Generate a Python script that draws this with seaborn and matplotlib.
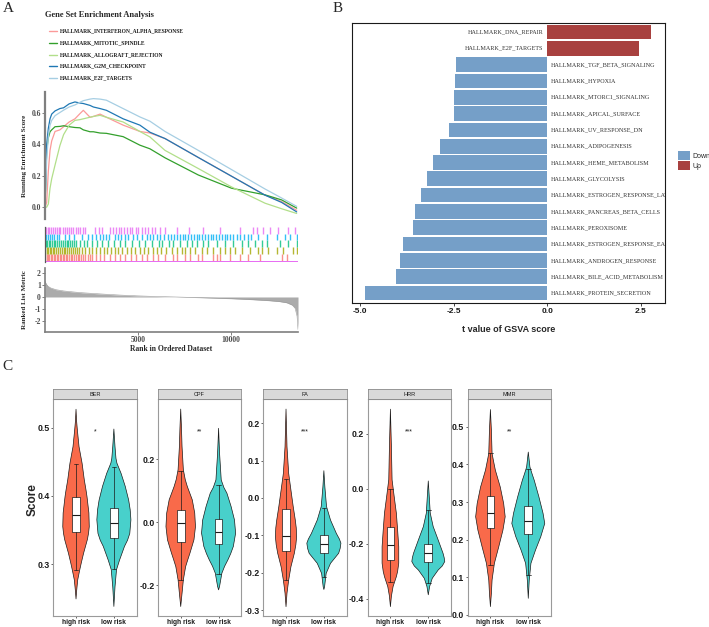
import numpy as np
import pandas as pd
import matplotlib
matplotlib.use('Agg')
import matplotlib.pyplot as plt
import seaborn as sns
from matplotlib.lines import Line2D
from matplotlib.patches import Patch

# ---------------- Panel A: GSEA ----------------
gsea_sets = ['HALLMARK_INTERFERON_ALPHA_RESPONSE', 'HALLMARK_MITOTIC_SPINDLE',
             'HALLMARK_ALLOGRAFT_REJECTION', 'HALLMARK_G2M_CHECKPOINT', 'HALLMARK_E2F_TARGETS']
gsea_colors = ['#FB9A99', '#33A02C', '#B2DF8A', '#1F78B4', '#A6CEE3']

es_rank = [0, 90, 180, 270, 360, 540, 800, 1000, 1300, 1610, 1880, 2060, 2420, 2600,
           2960, 3300, 4200, 5100, 5640, 6450, 8240, 10030, 11830, 12720, 13530]
es_interferon = [0.0, 0.03, 0.23, 0.36, 0.42, 0.48, 0.49, 0.51, 0.54, 0.56, 0.593, 0.614, 0.57,
                 0.575, 0.59, 0.57, 0.52, 0.48, 0.47, 0.435, 0.315, 0.196, 0.076, 0.035, -0.02]
es_mitotic = [0.0, 0.36, 0.44, 0.478, 0.49, 0.51, 0.512, 0.516, 0.51, 0.505, 0.503, 0.49, 0.478,
              0.478, 0.47, 0.468, 0.447, 0.393, 0.37, 0.313, 0.204, 0.12, 0.078, 0.046, -0.006]
es_allograft = [0.0, 0.0, 0.02, 0.12, 0.18, 0.267, 0.39, 0.46, 0.52, 0.55, 0.555, 0.56, 0.57,
                0.575, 0.582, 0.57, 0.54, 0.48, 0.445, 0.36, 0.245, 0.128, 0.025, -0.01, -0.04]
es_g2m = [0.0, 0.40, 0.50, 0.56, 0.59, 0.61, 0.625, 0.63, 0.655, 0.667, 0.66, 0.657, 0.645,
          0.635, 0.625, 0.614, 0.56, 0.52, 0.475, 0.435, 0.315, 0.196, 0.076, 0.03, -0.03]
es_e2f = [0.0, 0.30, 0.45, 0.52, 0.55, 0.58, 0.60, 0.615, 0.635, 0.648, 0.665, 0.675, 0.685,
          0.688, 0.685, 0.678, 0.625, 0.572, 0.545, 0.48, 0.36, 0.238, 0.115, 0.058, 0.005]
es_ticks = [0.0, 0.2, 0.4, 0.6]
es_tick_labels = ['0.0', '0.2', '0.4', '0.6']

# posiciones de los genes de cada conjunto (filas del rug, de abajo a arriba)
hits_interferon = [20, 90, 160, 240, 320, 400, 480, 560, 640, 720, 800, 880, 960, 1040, 1120,
                   1200, 1290, 1380, 1470, 1560, 1650, 1750, 1850, 1950, 2050, 2170, 2300, 2420,
                   2530, 2750, 2950, 3150, 3500, 3760, 4050, 4300, 4600, 4900, 5200, 5500, 5800,
                   6100, 6450, 6900, 7080, 7530, 7790, 8240, 8420, 9050, 9230, 9410, 9940, 10480,
                   10930, 11560, 12720, 12990]
hits_mitotic = [20, 100, 180, 260, 340, 420, 500, 600, 700, 800, 900, 1000, 1100, 1200, 1300,
                1400, 1500, 1600, 1700, 1850, 2000, 2150, 2350, 2550, 2750, 2950, 3150, 3350,
                3550, 3750, 3950, 4150, 4400, 4600, 4850, 5100, 5300, 5550, 5800, 6000, 6250,
                6500, 6810, 7080, 7350, 7530, 7790, 8060, 8420, 8690, 9050, 9410, 9680, 9940,
                10200, 10570, 11020, 11470, 11650, 12010, 12460, 12810, 13350, 13530]
hits_allograft = [30, 110, 190, 280, 370, 460, 560, 660, 760, 860, 960, 1060, 1160, 1260, 1360,
                  1460, 1560, 1680, 1900, 2100, 2280, 2530, 2800, 3070, 3400, 3700, 4050, 4320,
                  4680, 5030, 5390, 5750, 6110, 6290, 6650, 6900, 7260, 7620, 7880, 8150, 8510,
                  8780, 9230, 9680, 10120, 10570, 10930, 11290, 11650, 11920, 12630, 13080, 13530]
hits_g2m = [40, 140, 250, 380, 500, 620, 760, 1100, 1300, 1550, 1980, 2300, 2520, 2720, 2950,
            3120, 3300, 3450, 3780, 3950, 4100, 4280, 4480, 4750, 4950, 5200, 5480, 5650, 5800,
            6000, 6200, 6400, 6600, 6780, 6950, 7100, 7250, 7400, 7550, 7700, 7850, 8000, 8150,
            8300, 8450, 8600, 8750, 8900, 9050, 9200, 9350, 9500, 9650, 9800, 9950, 10100, 10300,
            10500, 10700, 10900, 11100, 11470, 11920, 12460, 12900, 13170, 13540]
hits_e2f = [60, 150, 230, 330, 420, 520, 640, 730, 830, 950, 1050, 1180, 1290, 1400, 1530, 1650,
            1780, 1900, 2050, 2170, 2710, 2880, 3060, 3520, 3650, 3800, 3960, 4100, 4230, 4400,
            4560, 4700, 4870, 5020, 5200, 5380, 5560, 5750, 5930, 6200, 6470, 7080, 7760, 8510,
            9410, 10480, 11160, 11410, 11740, 12100, 12540, 13080, 13440]
rug_colors = ['#F8766D', '#A3A500', '#00BF7D', '#00B0F6', '#E76BF3']

metric_rank = [0, 60, 150, 300, 600, 1000, 1500, 2000, 3000, 4000, 5000, 6000, 7000, 8000,
               9000, 10000, 11000, 12000, 12600, 13000, 13300, 13450, 13550, 13600]
metric_val = [1.3, 1.1, 0.9, 0.75, 0.6, 0.5, 0.42, 0.35, 0.25, 0.16, 0.09, 0.04, 0.0, -0.04,
              -0.09, -0.14, -0.21, -0.3, -0.38, -0.48, -0.68, -0.95, -1.6, -2.7]

# ---------------- Panel B: GSVA ----------------
gsva_pathways = ['HALLMARK_DNA_REPAIR', 'HALLMARK_E2F_TARGETS', 'HALLMARK_TGF_BETA_SIGNALING',
                 'HALLMARK_HYPOXIA', 'HALLMARK_MTORC1_SIGNALING', 'HALLMARK_APICAL_SURFACE',
                 'HALLMARK_UV_RESPONSE_DN', 'HALLMARK_ADIPOGENESIS', 'HALLMARK_HEME_METABOLISM',
                 'HALLMARK_GLYCOLYSIS', 'HALLMARK_ESTROGEN_RESPONSE_LATE',
                 'HALLMARK_PANCREAS_BETA_CELLS', 'HALLMARK_PEROXISOME',
                 'HALLMARK_ESTROGEN_RESPONSE_EARLY', 'HALLMARK_ANDROGEN_RESPONSE',
                 'HALLMARK_BILE_ACID_METABOLISM', 'HALLMARK_PROTEIN_SECRETION']
gsva_t = [2.77, 2.45, -2.44, -2.47, -2.49, -2.50, -2.62, -2.85, -3.05, -3.20, -3.38, -3.53,
          -3.58, -3.85, -3.94, -4.03, -4.85]
gsva_ticks = [-5.0, -2.5, 0.0, 2.5]
gsva_tick_labels = ['-5.0', '-2.5', '0.0', '2.5']
dir_colors = {'Down': '#759FC8', 'Up': '#A8413F'}

# ---------------- Panel C: violines ----------------
facetas = ['BER', 'CPF', 'FA', 'HRR', 'MMR']
grupos = ['high risk', 'low risk']
grupo_colors = ['#F96A4A', '#48D0CB']
estrellas = ['*', '**', '***', '***', '**']

# perfiles (valor, medio ancho)
ber_high = [(0.527, 0), (0.51, 0.015), (0.497, 0.035), (0.472, 0.08), (0.448, 0.16),
            (0.423, 0.22), (0.41, 0.26), (0.399, 0.29), (0.375, 0.34), (0.355, 0.35),
            (0.345, 0.33), (0.336, 0.30), (0.316, 0.2), (0.302, 0.14), (0.292, 0.1),
            (0.277, 0.045), (0.26, 0.015), (0.249, 0)]
ber_low = [(0.498, 0), (0.472, 0.03), (0.455, 0.055), (0.448, 0.08), (0.433, 0.19),
           (0.414, 0.30), (0.394, 0.39), (0.38, 0.43), (0.365, 0.45), (0.345, 0.42),
           (0.335, 0.36), (0.326, 0.28), (0.306, 0.15), (0.292, 0.07), (0.267, 0.03),
           (0.238, 0)]
cpf_high = [(0.359, 0), (0.30, 0.02), (0.24, 0.035), (0.166, 0.07), (0.135, 0.12),
            (0.113, 0.175), (0.071, 0.305), (0.029, 0.37), (-0.014, 0.39), (-0.056, 0.35),
            (-0.098, 0.245), (-0.12, 0.185), (-0.141, 0.13), (-0.183, 0.07), (-0.226, 0.035),
            (-0.268, 0)]
cpf_low = [(0.298, 0), (0.219, 0.026), (0.134, 0.07), (0.11, 0.14), (0.092, 0.22),
           (0.05, 0.33), (0.007, 0.42), (-0.035, 0.45), (-0.077, 0.39), (-0.1, 0.32),
           (-0.12, 0.245), (-0.14, 0.16), (-0.162, 0.087), (-0.204, 0.026), (-0.215, 0)]
fa_high = [(0.238, 0), (0.1375, 0.026), (0.066, 0.07), (0.021, 0.13), (-0.023, 0.19),
           (-0.059, 0.245), (-0.08, 0.27), (-0.104, 0.28), (-0.125, 0.26), (-0.148, 0.22),
           (-0.184, 0.13), (-0.22, 0.07), (-0.255, 0.026), (-0.291, 0)]
fa_low = [(0.073, 0), (0.03, 0.026), (-0.023, 0.07), (-0.059, 0.175), (-0.095, 0.33),
          (-0.11, 0.41), (-0.121, 0.45), (-0.135, 0.43), (-0.148, 0.39), (-0.175, 0.175),
          (-0.202, 0.06), (-0.238, 0.018), (-0.245, 0)]
hrr_high = [(0.29, 0), (0.154, 0.026), (0.033, 0.044), (-0.028, 0.1), (-0.088, 0.157),
            (-0.149, 0.19), (-0.21, 0.22), (-0.27, 0.22), (-0.3, 0.19), (-0.319, 0.157),
            (-0.355, 0.07), (-0.39, 0.026), (-0.428, 0)]
hrr_low = [(0.029, 0), (-0.028, 0.026), (-0.088, 0.052), (-0.137, 0.13), (-0.185, 0.26),
           (-0.234, 0.39), (-0.25, 0.42), (-0.264, 0.435), (-0.28, 0.37), (-0.295, 0.26),
           (-0.325, 0.105), (-0.355, 0.035), (-0.385, 0)]
mmr_high = [(0.546, 0), (0.49, 0.026), (0.429, 0.044), (0.41, 0.08), (0.385, 0.13),
            (0.34, 0.26), (0.296, 0.35), (0.261, 0.39), (0.225, 0.33), (0.181, 0.22),
            (0.137, 0.105), (0.093, 0.044), (0.058, 0.026), (0.022, 0)]
mmr_low = [(0.433, 0), (0.393, 0.044), (0.375, 0.1), (0.358, 0.157), (0.314, 0.28),
           (0.27, 0.39), (0.243, 0.435), (0.208, 0.33), (0.172, 0.19), (0.137, 0.07),
           (0.093, 0.026), (0.044, 0)]

# cajas: [whislo, q1, mediana, q3, whishi]
ber_box = [[0.292, 0.347, 0.372, 0.398, 0.447], [0.293, 0.339, 0.36, 0.382, 0.443]]
cpf_box = [[-0.185, -0.063, -0.003, 0.039, 0.163], [-0.165, -0.07, -0.032, 0.0095, 0.117]]
fa_box = [[-0.22, -0.141, -0.101, -0.0295, 0.05], [-0.211, -0.148, -0.124, -0.099, -0.028]]
hrr_box = [[-0.337, -0.258, -0.204, -0.139, -0.001], [-0.343, -0.266, -0.234, -0.2, -0.076]]
mmr_box = [[0.133, 0.231, 0.27, 0.317, 0.43], [0.106, 0.214, 0.25, 0.289, 0.389]]

ber_ticks = [0.3, 0.4, 0.5]
cpf_ticks = [-0.2, 0.0, 0.2]
fa_ticks = [-0.3, -0.2, -0.1, 0.0, 0.1, 0.2]
hrr_ticks = [-0.4, -0.2, 0.0, 0.2]
mmr_ticks = [0.0, 0.1, 0.2, 0.3, 0.4, 0.5]

# ---------------- estilo ----------------
sns.set_theme(style='ticks')
plt.rcParams['font.family'] = ['Liberation Sans', 'DejaVu Sans']
plt.rcParams['axes.unicode_minus'] = False
SERIF = 'Liberation Serif'
SANS = 'Liberation Sans'

W, H = 709, 627
fig = plt.figure(figsize=(W / 100, H / 100), dpi=100)


def caja(x0, y0, x1, y1):
    # pixeles de la imagen -> fracciones de la figura
    return [x0 / W, 1 - y1 / H, (x1 - x0) / W, (y1 - y0) / H]


# ---------- A: curvas de enriquecimiento ----------
df_es = pd.DataFrame({
    'rank': es_rank * 5,
    'es': es_interferon + es_mitotic + es_allograft + es_g2m + es_e2f,
    'set': [s for s in gsea_sets for _ in es_rank],
})
ax1 = fig.add_axes(caja(45, 92, 298, 219))
sns.lineplot(data=df_es, x='rank', y='es', hue='set', hue_order=gsea_sets, palette=gsea_colors,
             estimator=None, sort=False, linewidth=0.9, legend=False, ax=ax1)
ax1.set_xlim(0, 13600)
ax1.set_ylim(-0.075, 0.73)
for s in ['top', 'right', 'bottom']:
    ax1.spines[s].set_visible(False)
ax1.spines['left'].set_color('#7F7F7F')
ax1.spines['left'].set_linewidth(1.6)
ax1.set_xticks([])
ax1.set_xlabel('')
ax1.set_yticks(es_ticks)
ax1.set_yticklabels(es_tick_labels, fontfamily=SERIF, fontweight='bold', fontsize=5.5, color='#4D4D4D')
ax1.tick_params(axis='y', length=2, width=0.5, color='#4D4D4D', pad=1)
ax1.set_ylabel('Running Enrichment Score', fontfamily=SERIF, fontweight='bold', fontsize=5)
ax1.yaxis.set_label_coords(-0.072, 0.5)

fig.text(45 / W, 1 - 15 / H, 'Gene Set Enrichment Analysis', fontfamily=SERIF,
         fontweight='bold', fontsize=6, va='center', ha='left')
for i, (nombre, col) in enumerate(zip(gsea_sets, gsea_colors)):
    yy = 1 - (31 + 11.75 * i) / H
    fig.add_artist(Line2D([49.3 / W, 57.3 / W], [yy, yy], color=col, lw=1.0))
    fig.text(60 / W, yy, nombre, fontfamily=SERIF, fontweight='bold', fontsize=4.0,
             va='center', ha='left', color='#1A1A1A')

# ---------- A: rug ----------
ax2 = fig.add_axes(caja(45, 227, 298, 262))
for fila, (hits, col) in enumerate(zip([hits_interferon, hits_mitotic, hits_allograft,
                                         hits_g2m, hits_e2f], rug_colors)):
    ax2.vlines(hits, fila, fila + 1, colors=col, linewidth=1.0, alpha=0.8)
ax2.axhline(-0.12, color='#E76BF3', lw=0.7)
ax2.set_xlim(0, 13600)
ax2.set_ylim(-0.2, 5)
for s in ['top', 'right', 'bottom']:
    ax2.spines[s].set_visible(False)
ax2.spines['left'].set_color('#595959')
ax2.spines['left'].set_linewidth(0.9)
ax2.set_xticks([])
ax2.set_yticks([])

# ---------- A: ranked list metric ----------
ax3 = fig.add_axes(caja(45, 268, 298, 332))
ax3.fill_between(metric_rank, metric_val, 0, color='#ABABAB', linewidth=0)
sns.lineplot(x=metric_rank, y=metric_val, color='#9A9A9A', linewidth=0.4, ax=ax3)
ax3.set_xlim(0, 13600)
ax3.set_ylim(-2.9, 2.4)
for s in ['top', 'right']:
    ax3.spines[s].set_visible(False)
for s in ['left', 'bottom']:
    ax3.spines[s].set_color('#7F7F7F')
    ax3.spines[s].set_linewidth(1.2)
ax3.set_xticks([5000, 10000])
ax3.set_xticklabels(['5000', '10000'], fontfamily=SERIF, fontweight='bold', fontsize=5.5, color='#4D4D4D')
ax3.set_yticks([2, 1, 0, -1, -2])
ax3.set_yticklabels(['2', '1', '0', '-1', '-2'], fontfamily=SERIF, fontweight='bold', fontsize=5.5,
                    color='#4D4D4D')
ax3.tick_params(length=2, width=0.5, color='#4D4D4D', pad=1)
ax3.set_xlabel('Rank in Ordered Dataset', fontfamily=SERIF, fontweight='bold', fontsize=5.5, labelpad=0.5)
ax3.set_ylabel('Ranked List Metric', fontfamily=SERIF, fontweight='bold', fontsize=5)
ax3.yaxis.set_label_coords(-0.072, 0.5)

# ---------- B: GSVA ----------
dfb = pd.DataFrame({'pathway': gsva_pathways, 't': gsva_t})
dfb['dir'] = np.where(dfb['t'] > 0, 'Up', 'Down')
ax4 = fig.add_axes(caja(352, 23, 665, 303))
sns.barplot(data=dfb, x='t', y='pathway', hue='dir', hue_order=['Down', 'Up'],
            palette=dir_colors, orient='h', dodge=False, width=0.9, saturation=1,
            linewidth=0, legend=False, ax=ax4)
for i, (nombre, t) in enumerate(zip(gsva_pathways, gsva_t)):
    if t > 0:
        ax4.text(-0.1, i, nombre, ha='right', va='center', fontfamily=SERIF, fontsize=4.4,
                 color='#333333', clip_on=True)
    else:
        ax4.text(0.1, i, nombre, ha='left', va='center', fontfamily=SERIF, fontsize=4.4,
                 color='#333333', clip_on=True)
ax4.set_xlim(-5.21, 3.14)
ax4.set_ylim(16.61, -0.55)
ax4.set_yticks([])
ax4.set_ylabel('')
ax4.set_xticks(gsva_ticks)
ax4.set_xticklabels(gsva_tick_labels, fontweight='bold', fontsize=6, color='#1A1A1A')
ax4.tick_params(axis='x', length=2, width=0.6, pad=1.5)
for s in ax4.spines.values():
    s.set_color('#1A1A1A')
    s.set_linewidth(0.8)
ax4.set_xlabel('t value of GSVA score', fontweight='bold', fontsize=6.5, labelpad=7)
fig.legend([Patch(facecolor=dir_colors['Down'], edgecolor='none'),
            Patch(facecolor=dir_colors['Up'], edgecolor='none')], ['Down', 'Up'],
           loc='upper left', bbox_to_anchor=(675 / W, 1 - 148 / H), frameon=False,
           prop={'family': SANS, 'size': 5}, handlelength=1.6, handleheight=1.6,
           labelspacing=0.15, handletextpad=0.4, borderpad=0)

# ---------- C: violines ----------
perfiles = [(ber_high, ber_low), (cpf_high, cpf_low), (fa_high, fa_low),
            (hrr_high, hrr_low), (mmr_high, mmr_low)]
cajas = [ber_box, cpf_box, fa_box, hrr_box, mmr_box]
ticks_c = [ber_ticks, cpf_ticks, fa_ticks, hrr_ticks, mmr_ticks]
ylims_c = [(0.224, 0.542), (-0.298, 0.391), (-0.316, 0.265), (-0.462, 0.327), (-0.003, 0.574)]
lefts_c = [53.3, 158, 263.3, 367.7, 467.7]
ancho_c = 83.3

for k, faceta in enumerate(facetas):
    l = lefts_c[k]
    ax = fig.add_axes(caja(l, 399, l + ancho_c, 616))
    for j, perfil in enumerate(perfiles[k]):
        y = np.array([p[0] for p in perfil])
        w = np.array([p[1] for p in perfil])
        x0 = j + 1
        ax.fill(np.concatenate([x0 - w, (x0 + w)[::-1]]), np.concatenate([y, y[::-1]]),
                facecolor=grupo_colors[j], edgecolor='#1A1A1A', linewidth=0.5,
                joinstyle='round', zorder=2)
    stats = [dict(whislo=b[0], q1=b[1], med=b[2], q3=b[3], whishi=b[4], fliers=[])
             for b in cajas[k]]
    ax.bxp(stats, positions=[1, 2], widths=0.2, capwidths=0.12, patch_artist=True,
           showfliers=False, manage_ticks=False, zorder=3,
           boxprops=dict(facecolor='white', edgecolor='#1A1A1A', linewidth=0.5),
           medianprops=dict(color='#1A1A1A', linewidth=0.8),
           whiskerprops=dict(color='#1A1A1A', linewidth=0.5),
           capprops=dict(color='#1A1A1A', linewidth=0.5))
    ax.text(1.5, 0.85, estrellas[k], transform=ax.get_xaxis_transform(), ha='center',
            va='center', fontsize=5, color='#1A1A1A')
    ax.set_xlim(0.4, 2.6)
    ax.set_ylim(*ylims_c[k])
    ax.set_xticks([1, 2])
    ax.set_xticklabels(grupos, fontweight='bold', fontsize=4.8, color='#1A1A1A')
    ax.set_yticks(ticks_c[k])
    ax.set_yticklabels(['%.1f' % v for v in ticks_c[k]], fontweight='bold', fontsize=6.3,
                       color='#1A1A1A')
    ax.tick_params(length=1.5, width=0.5, pad=1)
    for s in ax.spines.values():
        s.set_color('#9A9A9A')
        s.set_linewidth(0.8)
    # tira de la faceta
    st = fig.add_axes(caja(l, 389, l + ancho_c, 399))
    st.set_facecolor('#D9D9D9')
    st.set_xticks([])
    st.set_yticks([])
    for s in st.spines.values():
        s.set_color('#8C8C8C')
        s.set_linewidth(0.6)
    st.text(0.5, 0.5, faceta, ha='center', va='center', fontsize=4, color='#1A1A1A',
            transform=st.transAxes)

fig.text(33 / W, 1 - 500 / H, 'Score', rotation=90, fontweight='bold', fontsize=8.5,
         ha='center', va='center')

# letras de los paneles
fig.text(3 / W, 1 - 9 / H, 'A', fontfamily=SERIF, fontsize=11, ha='left', va='center')
fig.text(333 / W, 1 - 9 / H, 'B', fontfamily=SERIF, fontsize=11, ha='left', va='center')
fig.text(2 / W, 1 - 367 / H, 'C', fontfamily=SERIF, fontsize=11, ha='left', va='center')

fig.savefig('out.png', dpi=100)
